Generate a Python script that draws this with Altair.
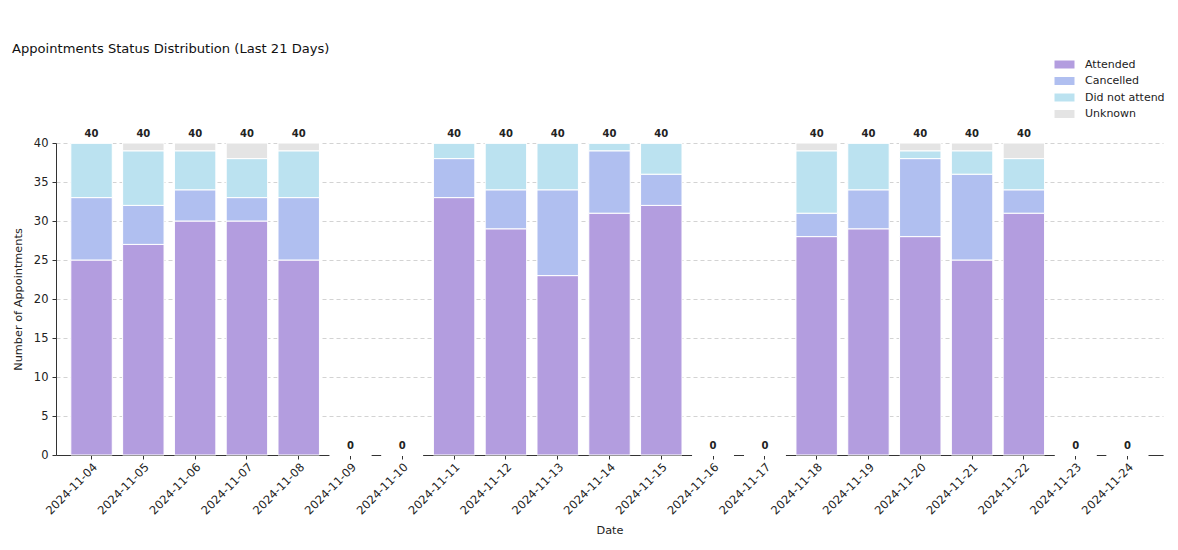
import altair as alt
import pandas as pd

# Daily appointment counts by status
dates = [
    "2024-11-04", "2024-11-05", "2024-11-06", "2024-11-07", "2024-11-08",
    "2024-11-09", "2024-11-10", "2024-11-11", "2024-11-12", "2024-11-13",
    "2024-11-14", "2024-11-15", "2024-11-16", "2024-11-17", "2024-11-18",
    "2024-11-19", "2024-11-20", "2024-11-21", "2024-11-22", "2024-11-23",
    "2024-11-24",
]
attended = [25, 27, 30, 30, 25, 0, 0, 33, 29, 23, 31, 32, 0, 0, 28, 29, 28, 25, 31, 0, 0]
cancelled = [8, 5, 4, 3, 8, 0, 0, 5, 5, 11, 8, 4, 0, 0, 3, 5, 10, 11, 3, 0, 0]
did_not_attend = [7, 7, 5, 5, 6, 0, 0, 2, 6, 6, 1, 4, 0, 0, 8, 6, 1, 3, 4, 0, 0]
unknown = [0, 1, 1, 2, 1, 0, 0, 0, 0, 0, 0, 0, 0, 0, 1, 0, 1, 1, 2, 0, 0]

statuses = ["Attended", "Cancelled", "Did not attend", "Unknown"]
colors = ["#b39ddf", "#b0bff0", "#bbe2f0", "#e4e4e4"]
series = [attended, cancelled, did_not_attend, unknown]
y_ticks = [0, 5, 10, 15, 20, 25, 30, 35, 40]

rows = []
for s_idx, (status, vals) in enumerate(zip(statuses, series)):
    for d, v in zip(dates, vals):
        rows.append({"Date": d, "Status": status, "Count": v, "order": s_idx})
long_df = pd.DataFrame(rows)

totals_df = pd.DataFrame({
    "Date": dates,
    "Total": [a + c + n + u for a, c, n, u in zip(attended, cancelled, did_not_attend, unknown)],
})

FONT = "DejaVu Sans"

x_enc = alt.X(
    "Date:N",
    sort=dates,
    scale=alt.Scale(paddingInner=0.2, paddingOuter=0.286),
    axis=alt.Axis(
        title="Date",
        labelAngle=-45,
        labelAlign="right",
        labelBaseline="top",
        labelFontSize=11.5,
        labelColor="#222",
        tickColor="#333",
        tickSize=4,
        domainColor="#333",
        titleFontSize=11.3,
        titleFontWeight="normal",
        titleColor="#222",
        titlePadding=8,
        grid=False,
    ),
)

bars = alt.Chart(long_df).mark_bar(stroke="white", strokeWidth=1).encode(
    x=x_enc,
    y=alt.Y(
        "Count:Q",
        stack="zero",
        scale=alt.Scale(domain=[0, 40], nice=False),
        axis=alt.Axis(
            title="Number of Appointments",
            values=y_ticks,
            tickCount=len(y_ticks),
            labelOverlap=False,
            labelFontSize=11.5,
            labelColor="#222",
            labelPadding=4,
            tickColor="#333",
            tickSize=4,
            domainColor="#333",
            titleFontSize=11.3,
            titleFontWeight="normal",
            titleColor="#222",
            titlePadding=10,
            grid=True,
            gridDash=[4, 3],
            gridColor="#c8c8c8",
            gridWidth=0.8,
        ),
    ),
    color=alt.Color(
        "Status:N",
        scale=alt.Scale(domain=statuses, range=colors),
        legend=alt.Legend(
            title=None,
            orient="none",
            legendX=1003,
            legendY=-84,
            symbolType="M-2,-0.8H2V0.8H-2Z",
            symbolSize=100,
            symbolStrokeWidth=0,
            labelFontSize=11,
            labelColor="#222",
            labelOffset=15,
            rowPadding=4.5,
            symbolOpacity=1,
        ),
    ),
    order=alt.Order("order:Q", sort="ascending"),
)

labels = alt.Chart(totals_df).mark_text(
    dy=-9, fontWeight="bold", fontSize=10, color="#222", font=FONT
).encode(
    x=alt.X("Date:N", sort=dates),
    y=alt.Y("Total:Q"),
    text=alt.Text("Total:Q"),
)

chart = alt.layer(bars, labels).properties(
    width=1107,
    height=312,
    title=alt.TitleParams(
        "Appointments Status Distribution (Last 21 Days)",
        anchor="start",
        frame="group",
        fontSize=13.1,
        fontWeight="normal",
        color="#111",
        font=FONT,
        dx=-44,
        dy=1,
    ),
    autosize=alt.AutoSizeParams(type="none"),
    padding={"left": 56, "top": 143, "right": 15, "bottom": 95},
).configure(
    font=FONT,
).configure_view(
    stroke=None,
).configure_axis(
    labelFont=FONT,
    titleFont=FONT,
)

chart.save("out.html", embed_options={"renderer": "svg", "actions": False})
